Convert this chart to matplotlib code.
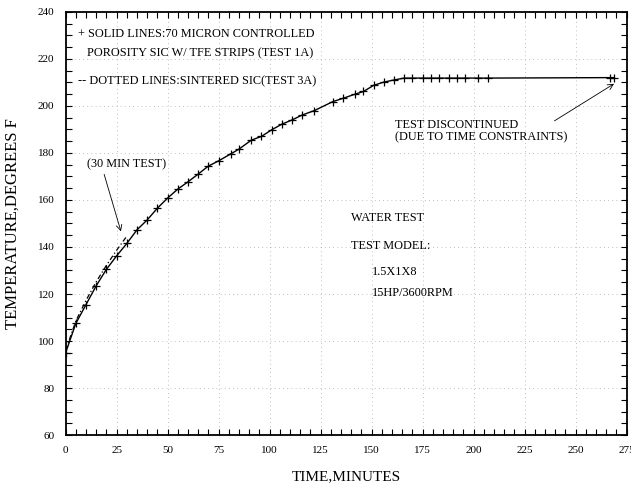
import matplotlib.pyplot as plt
from matplotlib.ticker import MultipleLocator

plt.rcParams['font.family'] = ['Liberation Serif', 'DejaVu Serif']

# solid line: 70 micron controlled porosity SiC w/ TFE strips (test 1A)
solid_time = [0, 5, 10, 15, 20, 25, 30, 35, 40, 45, 50, 55, 60, 65, 70, 75,
              81, 85, 91, 96, 101, 106, 111, 116, 122, 131, 136, 142, 146,
              151, 156, 161, 166, 170, 175, 179, 183, 188, 192, 196, 202, 207,
              267, 269]
solid_temp = [95, 107.5, 115.5, 123.5, 130.5, 136.2, 141.5, 147.3, 151.5, 156.5,
              160.8, 164.6, 167.7, 171.0, 174.4, 176.6, 179.6, 181.6, 185.4,
              187.0, 189.8, 192.2, 194.0, 196.1, 198.0, 201.8, 203.2, 205.0,
              206.1, 208.7, 210.1, 211.0, 211.8, 211.8, 211.8, 211.8, 211.8,
              211.8, 211.8, 211.8, 211.8, 211.8, 212.0, 212.0]

# dotted line: sintered SiC (test 3A)
dotted_time = [0, 5, 10, 15, 20, 25, 30]
dotted_temp = [96, 108.5, 117.3, 125.2, 132.2, 138.6, 144.6]

fig = plt.figure(figsize=(6.31, 4.90), dpi=100)
ax = fig.add_axes([0.104, 0.112, 0.889, 0.864])

ax.plot(solid_time, solid_temp, color='black', lw=1.0, marker='+',
        markersize=6, markeredgewidth=0.9)
ax.plot(dotted_time, dotted_temp, color='black', lw=0.9, ls=(0, (4, 2, 1, 2)))

ax.set_xlim(0, 275)
ax.set_ylim(60, 240)
ax.xaxis.set_major_locator(MultipleLocator(25))
ax.xaxis.set_minor_locator(MultipleLocator(5))
ax.yaxis.set_major_locator(MultipleLocator(20))
ax.yaxis.set_minor_locator(MultipleLocator(5))
ax.tick_params(which='both', direction='in', top=True, right=True,
               length=4, width=0.8, labelsize=8, pad=8)
ax.grid(True, which='major', ls=(0, (1, 4)), color='#aaaaaa', lw=0.6)
for sp in ax.spines.values():
    sp.set_linewidth(1.3)

ax.set_xlabel('TIME,MINUTES', fontsize=11, labelpad=11)
ax.set_ylabel('TEMPERATURE,DEGREES F', fontsize=12, labelpad=12)

fs = 8.8
# legend-like notes
ax.text(6, 230.5, '+ SOLID LINES:70 MICRON CONTROLLED', fontsize=fs, va='center')
ax.text(10.5, 222.5, 'POROSITY SIC W/ TFE STRIPS (TEST 1A)', fontsize=fs, va='center')
ax.text(6, 210.5, '-- DOTTED LINES:SINTERED SIC(TEST 3A)', fontsize=fs, va='center')

ax.text(30, 175, '(30 MIN TEST)', fontsize=fs, ha='center', va='center')
ax.annotate('', xy=(27.5, 145.5), xytext=(18.5, 172),
            arrowprops=dict(arrowstyle='->', color='black', lw=0.6))

ax.text(161.5, 192, 'TEST DISCONTINUED', fontsize=fs, va='center')
ax.text(161.5, 186.8, '(DUE TO TIME CONSTRAINTS)', fontsize=fs, va='center')
ax.annotate('', xy=(270, 210), xytext=(238.5, 193),
            arrowprops=dict(arrowstyle='->', color='black', lw=0.6))

ax.text(140, 152.5, 'WATER TEST', fontsize=fs, va='center')
ax.text(140, 140.4, 'TEST MODEL:', fontsize=fs, va='center')
ax.text(150, 129.4, '1.5X1X8', fontsize=fs, va='center')
ax.text(150, 120.4, '15HP/3600RPM', fontsize=fs, va='center')

fig.savefig('out.png', dpi=100)
